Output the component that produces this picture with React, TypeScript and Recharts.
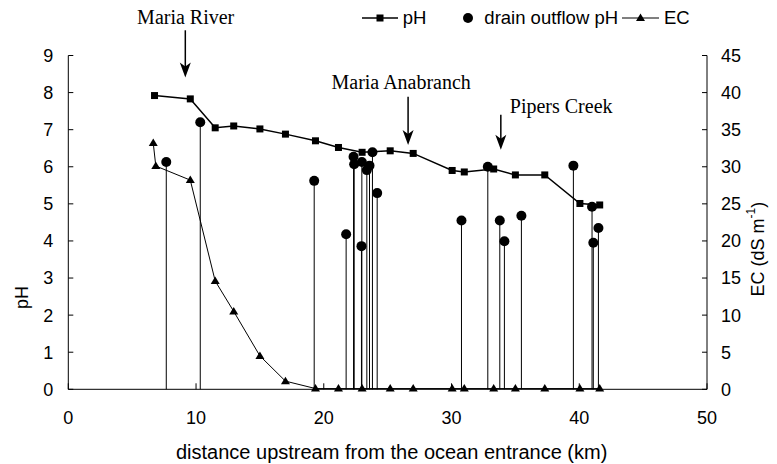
import React from "react";
import {
  ComposedChart,
  Line,
  Scatter,
  XAxis,
  YAxis,
  ErrorBar,
  ReferenceLine,
  ReferenceDot,
  Legend,
} from "recharts";

// river pH (squares)
const phDist = [6.75, 9.55, 11.5, 12.95, 15.0, 17.0, 19.35, 21.15, 23.0, 25.2, 27.0, 30.05, 31.0, 33.3, 35.0, 37.3, 40.05, 41.6];
const phValues = [7.92, 7.83, 7.05, 7.1, 7.02, 6.88, 6.7, 6.52, 6.39, 6.43, 6.36, 5.9, 5.86, 5.94, 5.78, 5.78, 5.01, 4.97];

// EC (triangles, right axis)
const ecDist = [6.65, 6.85, 9.55, 11.5, 12.95, 15.0, 17.0, 19.35, 21.15, 23.0, 25.2, 27.0, 30.05, 31.0, 33.3, 35.0, 37.3, 40.05, 41.6];
const ecValues = [33.2, 30.1, 28.2, 14.6, 10.5, 4.5, 1.1, 0.1, 0.1, 0.1, 0.1, 0.1, 0.1, 0.1, 0.1, 0.1, 0.1, 0.1, 0.1];

// drain outflow pH (circles on stems)
const drainDist = [7.67, 10.33, 19.25, 21.75, 22.33, 22.38, 22.95, 22.98, 23.37, 23.58, 23.81, 24.18, 30.78, 32.84, 33.78, 34.14, 35.47, 39.54, 41.0, 41.1, 41.5];
const drainPh = [6.13, 7.2, 5.62, 4.18, 6.27, 6.07, 3.86, 6.13, 5.91, 6.03, 6.39, 5.29, 4.55, 6.0, 4.55, 3.99, 4.68, 6.03, 4.92, 3.95, 4.35];

const xTicks = [0, 10, 20, 30, 40, 50];
const phTicks = [0, 1, 2, 3, 4, 5, 6, 7, 8, 9];
const ecTicks = [0, 5, 10, 15, 20, 25, 30, 35, 40, 45];

// site annotations
const siteNames = ["Maria River", "Maria Anabranch", "Pipers Creek"];
const siteArrowX = [9.16, 26.6, 33.86];
const siteArrowTop = [9.68, 7.89, 7.4];
const siteArrowTip = [8.41, 6.59, 6.46];
const siteLabelX = [9.19, 26.06, 34.56];
const siteLabelY = [9.86, 8.1, 7.46];
const siteAnchor = ["middle", "middle", "start"];

const phData = phDist.map((x, i) => ({ x, ph: phValues[i] }));
const ecData = ecDist.map((x, i) => ({ x, ec: ecValues[i] }));
const drainData = drainDist.map((x, i) => ({ x, ph: drainPh[i], stem: [drainPh[i], 0] }));

const SANS = '"Liberation Sans", Arial, sans-serif';
const SERIF = '"Liberation Serif", "Times New Roman", serif';

const Square = (props: any) => {
  const { cx, cy } = props;
  if (cx == null || cy == null) return null;
  return <rect x={cx - 3.5} y={cy - 3.5} width={7} height={7} fill="#000" />;
};

const Triangle = (props: any) => {
  const { cx, cy } = props;
  if (cx == null || cy == null) return null;
  return <path d={`M${cx},${cy - 4.5}L${cx + 4.5},${cy + 3}L${cx - 4.5},${cy + 3}Z`} fill="#000" />;
};

const Dot = (props: any) => {
  const { cx, cy } = props;
  if (cx == null || cy == null) return null;
  return <circle cx={cx} cy={cy} r={5} fill="#000" />;
};

const Arrow = (props: any) => {
  const { x1, y1, x2, y2 } = props;
  return (
    <g>
      <line x1={x1} y1={y1} x2={x2} y2={y2 - 8} stroke="#000" strokeWidth={1.5} />
      <path d={`M${x2},${y2}L${x2 - 5.5},${y2 - 15}L${x2},${y2 - 11}L${x2 + 5.5},${y2 - 15}Z`} fill="#000" />
    </g>
  );
};

const siteText = (name: string, anchor: string) => (props: any) => (
  <text x={props.cx} y={props.cy} textAnchor={anchor} fontFamily={SERIF} fontSize={20} fill="#000">
    {name}
  </text>
);

const ChartLegend = () => (
  <div style={{ display: "flex", alignItems: "center", fontSize: 18.5, lineHeight: "22px", color: "#000", whiteSpace: "nowrap", fontFamily: SANS }}>
    <svg width={36} height={12}>
      <line x1={0} y1={6} x2={36} y2={6} stroke="#000" strokeWidth={1.5} />
      <rect x={14.5} y={2.5} width={7} height={7} fill="#000" />
    </svg>
    <span style={{ marginLeft: 5 }}>pH</span>
    <svg width={12} height={12} style={{ marginLeft: 36 }}>
      <circle cx={6} cy={6} r={5} fill="#000" />
    </svg>
    <span style={{ marginLeft: 10 }}>drain outflow pH</span>
    <svg width={37} height={12} style={{ marginLeft: 4 }}>
      <line x1={0} y1={6} x2={37} y2={6} stroke="#000" strokeWidth={1} />
      <path d="M18.5,1.5L23,9L14,9Z" fill="#000" />
    </svg>
    <span style={{ marginLeft: 5 }}>EC</span>
  </div>
);

const PhLabel = (props: any) => {
  const vb = props.viewBox;
  const x = vb.x + 14;
  const y = vb.y + vb.height * 0.725;
  return (
    <text x={x} y={y} transform={`rotate(-90, ${x}, ${y})`} textAnchor="middle" dominantBaseline="central" fontSize={18} fill="#000">
      pH
    </text>
  );
};

const EcLabel = (props: any) => {
  const vb = props.viewBox;
  const x = vb.x + 51;
  const y = vb.y + vb.height * 0.58;
  return (
    <text x={x} y={y} transform={`rotate(-90, ${x}, ${y})`} textAnchor="middle" dominantBaseline="central" fontSize={18} fill="#000">
      EC (dS m
      <tspan dy={-7} fontSize={12}>-1</tspan>
      <tspan dy={7}>)</tspan>
    </text>
  );
};

const XLabel = (props: any) => {
  const vb = props.viewBox;
  return (
    <text x={vb.x + vb.width / 2 + 4} y={vb.y + 70} textAnchor="middle" fontSize={20} fill="#000">
      distance upstream from the ocean entrance (km)
    </text>
  );
};

export default function App() {
  return (
    <div style={{ position: "absolute", left: 0, top: 0, fontFamily: SANS }}>
      <ComposedChart width={777} height={464} margin={{ top: 55.5, right: 10, bottom: 14.7, left: 8.3 }}>
        <XAxis
          dataKey="x"
          type="number"
          domain={[0, 50]}
          ticks={xTicks}
          interval={0}
          tickSize={-6}
          tickMargin={28}
          height={60}
          stroke="#000"
          tick={{ fill: "#000", fontSize: 18 }}
          label={XLabel}
        />
        <YAxis
          yAxisId="ph"
          orientation="left"
          domain={[0, 9]}
          ticks={phTicks}
          interval={0}
          tickSize={-5}
          tickMargin={20}
          width={60}
          stroke="#000"
          tick={{ fill: "#000", fontSize: 18 }}
          label={PhLabel}
        />
        <YAxis
          yAxisId="ec"
          orientation="right"
          domain={[0, 45]}
          ticks={ecTicks}
          interval={0}
          tickSize={-5}
          tickMargin={19}
          width={60}
          stroke="#000"
          tick={{ fill: "#000", fontSize: 18 }}
          label={EcLabel}
        />
        <Legend
          content={<ChartLegend />}
          layout="horizontal"
          verticalAlign="middle"
          align="center"
          wrapperStyle={{ top: 7, left: 361.7, width: 380 }}
        />
        <Line
          yAxisId="ec"
          data={ecData}
          dataKey="ec"
          name="EC"
          type="linear"
          stroke="#000"
          strokeWidth={1}
          dot={Triangle}
          activeDot={false}
          isAnimationActive={false}
        />
        <Line
          yAxisId="ph"
          data={phData}
          dataKey="ph"
          name="pH"
          type="linear"
          stroke="#000"
          strokeWidth={1.5}
          dot={Square}
          activeDot={false}
          isAnimationActive={false}
        />
        <Scatter yAxisId="ph" data={drainData} dataKey="ph" name="drain outflow pH" shape={Dot} isAnimationActive={false}>
          <ErrorBar dataKey="stem" direction="y" width={0} stroke="#000" strokeWidth={1} />
        </Scatter>
        {siteNames.map((name, i) => (
          <ReferenceLine
            key={"arrow" + i}
            yAxisId="ph"
            segment={[
              { x: siteArrowX[i], y: siteArrowTop[i] },
              { x: siteArrowX[i], y: siteArrowTip[i] },
            ]}
            ifOverflow="visible"
            shape={Arrow}
          />
        ))}
        {siteNames.map((name, i) => (
          <ReferenceDot
            key={"label" + i}
            yAxisId="ph"
            x={siteLabelX[i]}
            y={siteLabelY[i]}
            ifOverflow="visible"
            shape={siteText(name, siteAnchor[i])}
          />
        ))}
      </ComposedChart>
    </div>
  );
}
